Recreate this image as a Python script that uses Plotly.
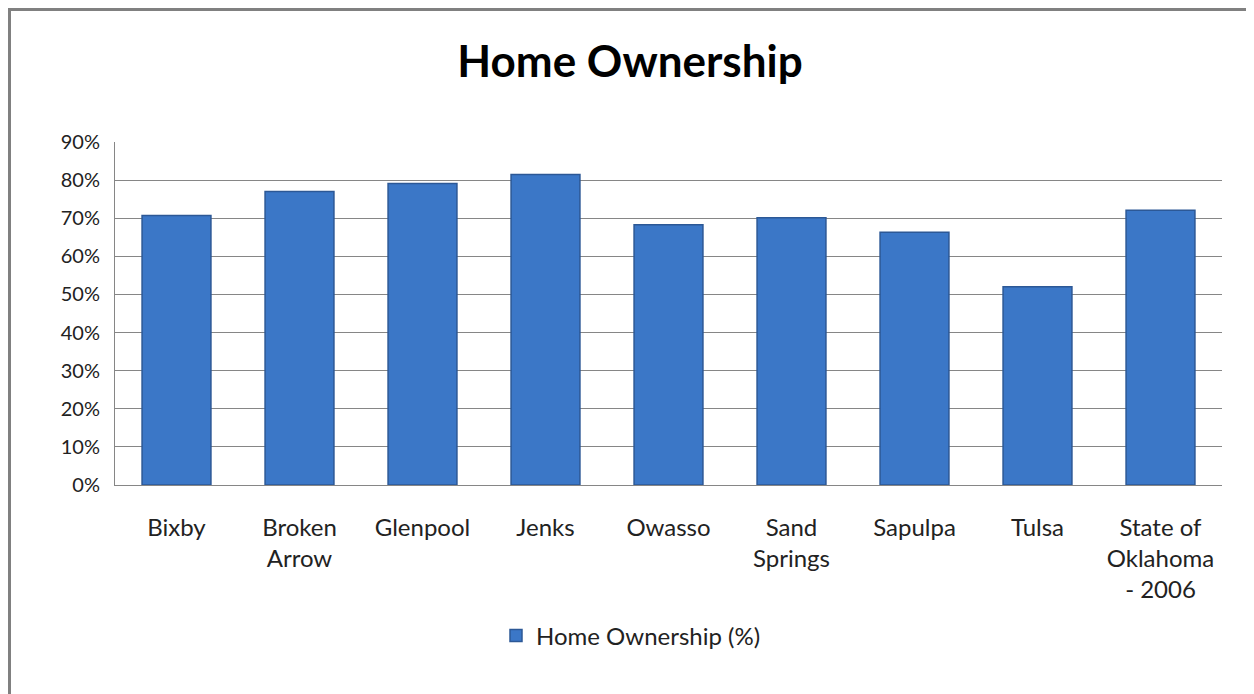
import plotly.graph_objects as go

categories = ["Bixby", "Broken<br>Arrow", "Glenpool", "Jenks", "Owasso",
              "Sand<br>Springs", "Sapulpa", "Tulsa", "State of<br>Oklahoma<br>- 2006"]
values = [70.7, 77.0, 79.1, 81.5, 68.3, 70.1, 66.3, 52.0, 72.1]
series_name = "Home Ownership (%)"
title_text = "Home Ownership"
y_ticks = [0, 10, 20, 30, 40, 50, 60, 70, 80, 90]
y_ticktext = [f"{v}%" for v in y_ticks]

FONT = "Lato"
# page has an 8px body margin; figure sized/offset to compensate
W, H = 1246, 686
L, T = 107, 134
PW, PH = 1107, 343

fig = go.Figure()
fig.add_trace(go.Bar(
    x=categories, y=values, name=series_name,
    marker=dict(color="#3B77C7", line=dict(color="#2C5896", width=1.5)),
    showlegend=True,
))

fig.update_layout(
    width=W, height=H,
    margin=dict(l=L, r=W - L - PW, t=T, b=H - T - PH),
    paper_bgcolor="white", plot_bgcolor="white",
    font=dict(family=FONT, color="#222222", size=22),
    bargap=0.44,
    title=dict(text="<b>" + title_text + "</b>", x=(630 - 8) / W, xref="container", xanchor="center",
               y=1 - (62 - 8) / H, yref="container", yanchor="middle",
               font=dict(family=FONT, size=44, color="#000000")),
    xaxis=dict(showgrid=False, showline=True, linecolor="#868686", linewidth=1,
               ticks="", tickfont=dict(size=24, color="#222222"), ticklabelstandoff=21),
    yaxis=dict(range=[0, 90], tickvals=y_ticks, ticktext=y_ticktext,
               showgrid=True, gridcolor="#868686", gridwidth=1,
               showline=True, linecolor="#868686", linewidth=1,
               ticks="", ticklabelstandoff=10,
               tickfont=dict(size=20, color="#222222"), zeroline=False),
    legend=dict(orientation="h", x=(631 - 115) / PW, xanchor="center",
                y=(485 - 636) / PH, yanchor="middle",
                font=dict(size=24, color="#222222"), itemwidth=30),
    shapes=[dict(type="rect", xref="paper", yref="paper",
                 x0=(1.5 - L) / PW, x1=(1243 - L) / PW,
                 y0=(477 - 720) / PH, y1=(477 - 1.5) / PH,
                 line=dict(color="#808080", width=3), fillcolor="rgba(0,0,0,0)", layer="below")],
)

fig.write_html("out.html")
